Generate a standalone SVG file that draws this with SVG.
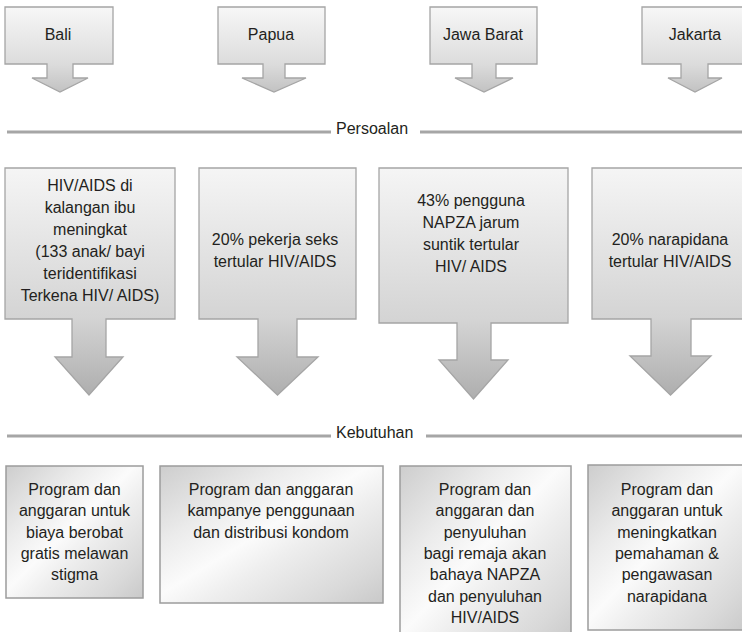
<svg xmlns="http://www.w3.org/2000/svg" width="742" height="632" viewBox="0 0 742 632">
  <defs>
    <!-- soft vertical shading for the block arrows -->
    <linearGradient id="gArrowTop" x1="0" y1="0" x2="0" y2="1">
      <stop offset="0" stop-color="#f7f7f7"/>
      <stop offset="0.67" stop-color="#dcdcdc"/>
      <stop offset="1" stop-color="#c2c2c2"/>
    </linearGradient>
    <linearGradient id="gArrowMid" x1="0" y1="0" x2="0" y2="1">
      <stop offset="0" stop-color="#f5f5f5"/>
      <stop offset="0.66" stop-color="#d4d4d4"/>
      <stop offset="1" stop-color="#aeaeae"/>
    </linearGradient>
    <!-- brushed silver fill for the need boxes -->
    <linearGradient id="gSilver" x1="0" y1="0" x2="1" y2="1">
      <stop offset="0" stop-color="#cdcdcd"/>
      <stop offset="0.28" stop-color="#ebebeb"/>
      <stop offset="0.47" stop-color="#fbfbfb"/>
      <stop offset="0.6" stop-color="#eeeeee"/>
      <stop offset="0.85" stop-color="#d9d9d9"/>
      <stop offset="1" stop-color="#c9c9c9"/>
    </linearGradient>
  </defs>
  <style>
    .txt { font-family: "Liberation Sans", Arial, sans-serif; font-size: 16px; fill: #231f20; text-anchor: middle; }
    .hdr { font-family: "Liberation Sans", Arial, sans-serif; font-size: 16px; fill: #231f20; }
    .arTop { fill: url(#gArrowTop); stroke: #a5a5a5; stroke-width: 1.3; }
    .arMid { fill: url(#gArrowMid); stroke: #a5a5a5; stroke-width: 1.3; }
    .box { fill: url(#gSilver); stroke: #9c9c9c; stroke-width: 1.5; }
    .rule { stroke: #a6a6a6; stroke-width: 3; fill: none; }
  </style>

  <rect width="742" height="632" fill="#ffffff"/>

  <!-- provinces -->
  <g id="prov-bali">
    <path class="arTop" d="M5,7 H113 V64 H73 V78 H88 L60,92 L32,78 H47 V64 H5 Z"/>
    <text class="txt" x="58" y="40">Bali</text>
  </g>
  <g id="prov-papua">
    <path class="arTop" d="M218,7 H325 V64 H285 V78 H306 L274,92 L242,78 H263 V64 H218 Z"/>
    <text class="txt" x="271" y="40">Papua</text>
  </g>
  <g id="prov-jabar">
    <path class="arTop" d="M430,7 H537 V64 H496 V78 H513 L484,92 L455,78 H472 V64 H430 Z"/>
    <text class="txt" x="483" y="40">Jawa Barat</text>
  </g>
  <g id="prov-jakarta">
    <path class="arTop" d="M642,7 H750 V64 H708 V78 H722 L695,92 L668,78 H681 V64 H642 Z"/>
    <text class="txt" x="695" y="40">Jakarta</text>
  </g>

  <!-- section rules -->
  <g id="connectors">
    <line class="rule" x1="7" y1="132" x2="331" y2="132"/>
    <line class="rule" x1="420" y1="132" x2="742" y2="132"/>
    <line class="rule" x1="7" y1="436" x2="331" y2="436"/>
    <line class="rule" x1="426" y1="436" x2="742" y2="436"/>
  </g>
  <g id="label-persoalan">
    <text class="hdr" x="336" y="134">Persoalan</text>
  </g>
  <g id="label-kebutuhan">
    <text class="hdr" x="336" y="438">Kebutuhan</text>
  </g>

  <!-- problems -->
  <g id="issue-bali">
    <path class="arMid" d="M5,168 H175 V319 H106 V357 H123 L89,395 L55,357 H72 V319 H5 Z"/>
    <text class="txt" x="90" y="191">HIV/AIDS di</text>
    <text class="txt" x="90" y="213">kalangan ibu</text>
    <text class="txt" x="90" y="235">meningkat</text>
    <text class="txt" x="90" y="257">(133 anak/ bayi</text>
    <text class="txt" x="90" y="279">teridentifikasi</text>
    <text class="txt" x="90" y="301">Terkena HIV/ AIDS)</text>
  </g>
  <g id="issue-papua">
    <path class="arMid" d="M199,168 H356 V319 H297 V357 H318 L277.5,395 L237,357 H258 V319 H199 Z"/>
    <text class="txt" x="275" y="245">20% pekerja seks</text>
    <text class="txt" x="275" y="267">tertular HIV/AIDS</text>
  </g>
  <g id="issue-jabar">
    <path class="arMid" d="M379,168 H568 V323 H491 V360 H508 L473.5,399 L439,360 H457 V323 H379 Z"/>
    <text class="txt" x="471" y="206">43% pengguna</text>
    <text class="txt" x="471" y="228">NAPZA jarum</text>
    <text class="txt" x="471" y="250">suntik tertular</text>
    <text class="txt" x="471" y="272">HIV/ AIDS</text>
  </g>
  <g id="issue-jakarta">
    <path class="arMid" d="M592,168 H750 V319 H691 V356 H711 L670.5,395 L630,356 H651 V319 H592 Z"/>
    <text class="txt" x="670" y="245">20% narapidana</text>
    <text class="txt" x="670" y="267">tertular HIV/AIDS</text>
  </g>

  <!-- needs -->
  <g id="need-bali">
    <rect class="box" x="6" y="466" width="137" height="132"/>
    <text class="txt" x="74.5" y="495">Program dan</text>
    <text class="txt" x="74.5" y="516.3">anggaran untuk</text>
    <text class="txt" x="74.5" y="537.6">biaya berobat</text>
    <text class="txt" x="74.5" y="558.9">gratis melawan</text>
    <text class="txt" x="74.5" y="580.2">stigma</text>
  </g>
  <g id="need-papua">
    <rect class="box" x="160" y="466" width="223" height="137"/>
    <text class="txt" x="271" y="495">Program dan anggaran</text>
    <text class="txt" x="271" y="516.3">kampanye penggunaan</text>
    <text class="txt" x="271" y="537.6">dan distribusi kondom</text>
  </g>
  <g id="need-jabar">
    <rect class="box" x="400" y="466" width="171" height="180"/>
    <text class="txt" x="485" y="495">Program dan</text>
    <text class="txt" x="485" y="516.3">anggaran dan</text>
    <text class="txt" x="485" y="537.6">penyuluhan</text>
    <text class="txt" x="485" y="558.9">bagi remaja akan</text>
    <text class="txt" x="485" y="580.2">bahaya NAPZA</text>
    <text class="txt" x="485" y="601.5">dan penyuluhan</text>
    <text class="txt" x="485" y="622.8">HIV/AIDS</text>
  </g>
  <g id="need-jakarta">
    <rect class="box" x="588" y="465" width="160" height="165"/>
    <text class="txt" x="667" y="495">Program dan</text>
    <text class="txt" x="667" y="516.3">anggaran untuk</text>
    <text class="txt" x="667" y="537.6">meningkatkan</text>
    <text class="txt" x="667" y="558.9">pemahaman &amp;</text>
    <text class="txt" x="667" y="580.2">pengawasan</text>
    <text class="txt" x="667" y="601.5">narapidana</text>
  </g>
</svg>
